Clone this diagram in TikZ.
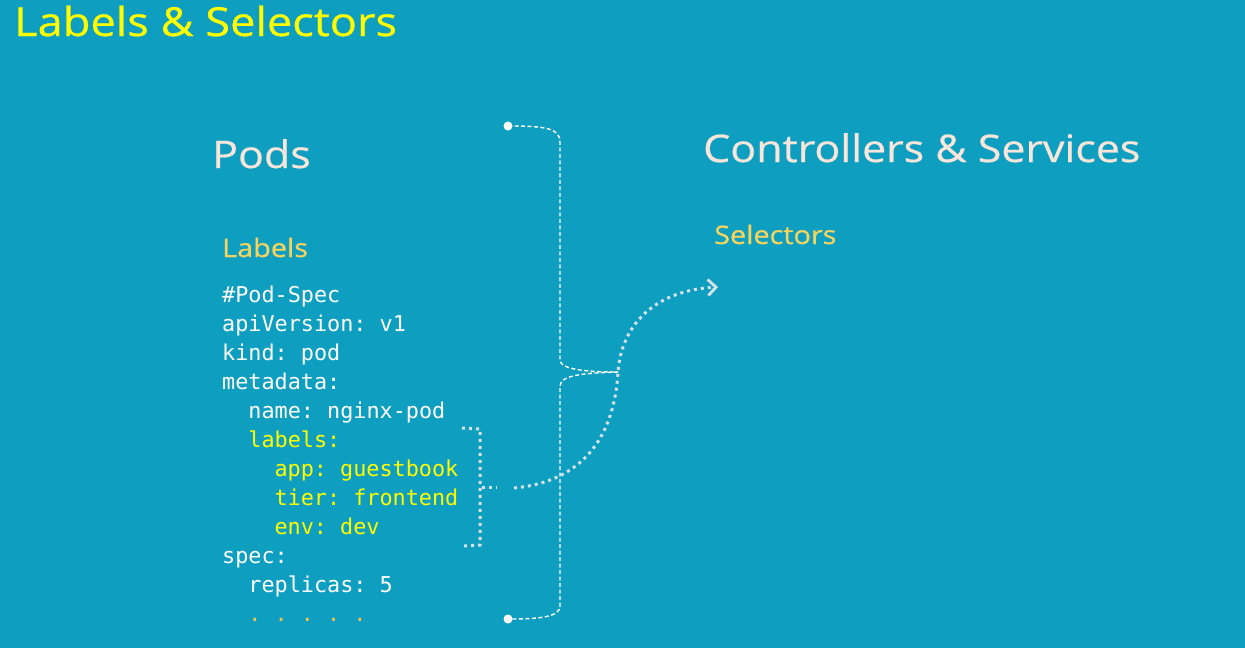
\documentclass[tikz,border=0pt]{standalone}
\usepackage{fontspec}
\setmainfont{Open Sans}[FakeStretch=1.13, FakeBold=0.6]
\setmonofont{DejaVu Sans Mono}
\usetikzlibrary{arrows.meta}

\definecolor{slidebg}{HTML}{0E9EC0}
\definecolor{titleyellow}{HTML}{FFFF00}
\definecolor{headcream}{HTML}{F9E6DA}
\definecolor{subgold}{HTML}{F6D45E}
\definecolor{dotgrey}{HTML}{D5E3E8}
\definecolor{codewhite}{HTML}{FFFFFF}
\definecolor{dotorange}{HTML}{F2C64A}

\tikzset{
  heading/.style={anchor=base west, inner sep=0pt, text=headcream, font=\fontsize{38}{40}\selectfont},
  subheading/.style={anchor=base west, inner sep=0pt, text=subgold, font=\fontsize{25.5}{28}\selectfont},
  code/.style={anchor=base west, inner sep=0pt, font=\ttfamily\fontsize{21.8}{24}\selectfont},
  dashline/.style={draw=white, line width=1.4pt, dash pattern=on 4pt off 2.5pt},
  dotline/.style={draw=dotgrey, line width=3pt, dash pattern=on 3pt off 4pt}
}

\begin{document}
\begin{tikzpicture}[x=1pt, y=-1pt]
    % Background of the slide
    \fill[slidebg] (0,0) rectangle (1245,648);
    \useasboundingbox (0,0) rectangle (1245,648);

    % Title
    \node[anchor=base west, inner sep=0pt, text=titleyellow, font=\fontsize{40}{44}\selectfont] (title) at (14,36) {Labels \& Selectors};

    % Headings of the two columns
    \node[heading] (pods) at (212,168) {Pods};
    \node[heading] (ctrl) at (703,162) {Controllers \& Services};
    \node[subheading] (labels) at (222,257) {Labels};
    \node[subheading] (selectors) at (714,244) {Selectors};

    % The pod spec, one line at a time
    \foreach \i/\ind/\txt/\col in {0/0/\#Pod-Spec/codewhite, 1/0/apiVersion: v1/codewhite,
        2/0/kind: pod/codewhite, 3/0/metadata:/codewhite, 4/2/name: nginx-pod/codewhite,
        5/2/labels:/titleyellow, 6/4/app: guestbook/titleyellow, 7/4/tier: frontend/titleyellow,
        8/4/env: dev/titleyellow, 9/0/spec:/codewhite, 10/2/replicas: 5/codewhite,
        11/2/. . . . ./dotorange}
        \node[code, text=\col] (line\i) at (222+\ind*13.1, 302+\i*29) {\txt};

    % Big dashed bracket round the spec
    \coordinate (btop) at (508,126);
    \coordinate (bbot) at (508,619);
    \coordinate (bmid) at (618,372);
    \fill[white] (btop) circle (4.5);
    \fill[white] (bbot) circle (4.5);
    \draw[dashline] (btop) .. controls (545,126) and (560,128) .. (560,142) -- (560,360)
        .. controls (560,370) and (590,372) .. (bmid);
    \draw[dashline] (bmid) .. controls (590,373) and (560,374) .. (560,386) -- (560,606)
        .. controls (560,617) and (540,619) .. (bbot);

    % Small dotted bracket round the labels
    \coordinate (stop) at (462,428);
    \coordinate (sbot) at (463,546);
    \coordinate (stick) at (497,487);
    \draw[dotline] (stop) -- (480,429) -- (480,545) -- (sbot);
    \draw[dotline] (482,487) -- (stick);

    % Dotted arrow from the labels to the selectors
    \coordinate (astart) at (514,488);
    \coordinate (aend) at (718,287);
    \draw[dotline, -{Straight Barb[length=8pt, width=16pt, line width=2.8pt]}] (astart)
        .. controls (580,482) and (614,440) .. (bmid)
        .. controls (622,320) and (660,290) .. (aend);

\end{tikzpicture}
\end{document}
